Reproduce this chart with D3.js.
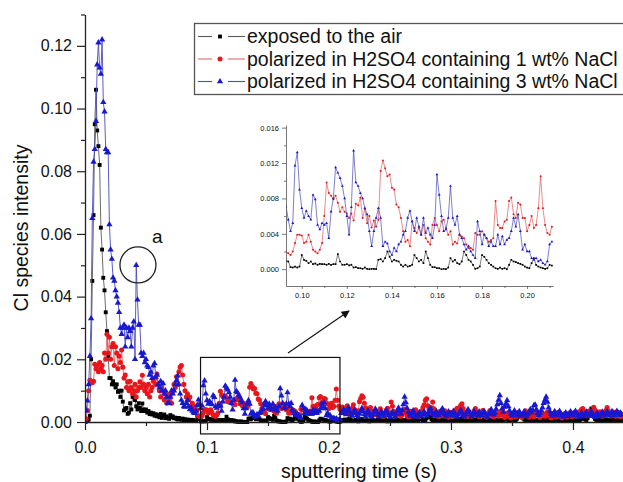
<!DOCTYPE html>
<html><head><meta charset="utf-8">
<script src="https://cdn.jsdelivr.net/npm/d3@7"></script>
<style>body{margin:0;background:#fff}svg{display:block}text{font-family:"Liberation Sans",Arial,Helvetica,sans-serif;fill:#111}</style>
</head><body><svg id="c" width="623" height="482"></svg>
<script>
// ---------- data ----------
const timeStepS = 0.001; // sampling step of the sputtering time (s)
const seriesNames = ["exposed to the air", "polarized in H2SO4 containing 1 wt% NaCl", "polarized in H2SO4 containing 3 wt% NaCl"];
const airValues = [
0,.0003,.0005,.0008,.002,.02,.045,.066,.095,.106,.093,.088,.082,.062,.055,.046,.042,.035,.029,.021,
.014,.014,.012,.013,.012,.011,.012,.0096,.01,.008,.01,.0065,.0037,.0042,.0045,.0026,.003,.006,.004,.008,
.009,.007,.005,.004,.006,.0045,.0035,.0059,.004,.0035,.004,.003,.0035,.0025,.003,.0024,.0028,.002,.0025,.0018,
.0022,.0015,.0026,.0013,.002,.0024,.0012,.0018,.0013,.001,.0022,.0015,.0018,.0012,.0014,.001,.0008,.0013,.0009,.0007,
.0011,.0006,.0009,.0005,.0008,.0006,.0004,.0007,.0005,.0004,.0006,.0003,.002,.00095,.00087,.00023,.00019,.0003,.00019,.0003,
.0016,.00106,.00095,.00068,.00087,.00057,.00064,.0005,.0006,.00057,.00057,.0005,.0006,.0005,.00057,.00057,.0017,.00087,.0005,.0005,
.00057,.00042,.0005,.00019,.00023,.00011,.00011,.00004,.00019,.00004,0,.00004,.00004,0,.00106,.00114,.00087,.00125,.002,.0014,
.00087,.00106,.00095,.00087,.0005,.0003,.0005,.0003,.00038,.0005,.0016,.00125,.00087,.00106,.00068,.002,.00125,.0005,.00023,.00023,
.00011,.00011,0,.00004,0,.00019,.00125,.00087,.00106,.00068,.00057,.00087,.002,.0016,.00106,.00087,.0005,.00004,.00011,.0003,
.0016,.0014,.00106,.00068,.0005,.0003,.00011,.00004,.00019,.00004,.00011,0,.0005,.00106,.00087,.0008,.00068,.0006,.0005,.0003,
.00019,.00011,.00068,.00125,.0005,.0003,.00019,.00011,.00004,.00011,.0005,.0004,.0006,.0008,.0005,.0003,.0009,.0012,.0006,.0004,
.0003,.0005,.0007,.0004,.0002,.0006,.001,.0008,.0005,.0003,.0004,.0006,.0003,.0002,.0005,.0009,.0007,.0004,.0003,.0005,
.0008,.0011,.0006,.0004,.0003,.0005,.0007,.0004,.0002,.0003,.0006,.0009,.0005,.0004,.0003,.0006,.0008,.0005,.0003,.0004,
.0007,.0005,.0003,.0006,.001,.0007,.0004,.0003,.0005,.0008,.0006,.0004,.0003,.0005,.0009,.0013,.0008,.0005,.0004,.0006,
.0012,.0018,.0021,.0015,.0009,.0006,.0004,.0005,.0008,.0006,.0004,.0003,.0005,.0007,.0005,.0003,.0004,.0006,.0009,.0006,
.0004,.0003,.0005,.0008,.0006,.0004,.0005,.0007,.001,.0006,.0004,.0003,.0005,.0006,.0004,.0003,.0006,.0009,.0007,.0005,
.0004,.0006,.0011,.0008,.0005,.0003,.0004,.0007,.0005,.0004,.0006,.0009,.0006,.0004,.0003,.0005,.0008,.0006,.0004,.0005,
.0007,.0005,.0004,.0006,.0009,.0012,.0008,.0005,.0004,.0006,.0008,.0011,.0007,.0005,.001,.0016,.0022,.0026,.0018,.0012,
.0008,.0006,.0005,.0007,.0005,.0004,.0006,.0009,.0006,.0004,.0005,.0007,.0005,.0003,.0004,.0006,.0008,.0005,.0004,.0006,
.0009,.0007,.0005,.0004,.0006,.0008,.0005,.0003,.0005,.0007,.001,.0007,.0005,.0004,.0006,.0005,.0004,.0007,.0009,.0006,
.0005,.0004,.0006,.0008,.0006,.0005,.0007,.001,.0014,.0012,.0008,.0006,.0012,.002,.0032,.0043,.003,.0018,.001,.0007,
.0005,.0006,.0009,.0007,.0005,.0004,.0006,.0008,.0006,.0005,.0004,.0006,.0009,.0007,.0005,.0004,.0006,.0005,.0004,.0006,.0005];
const nacl1Values = [
.0005,.001,.0037,.01,.0133,.013,.0125,.013,.0184,.017,.018,.016,.019,.017,.018,.016,.022,.02,.028,.022,
.027,.02,.024,.025,.018,.024,.022,.017,.021,.019,.023,.0175,.014,.015,.011,.0128,.01,.013,.011,.009,
.01,.012,.008,.01,.011,.0128,.011,.0149,.012,.01,.011,.009,.012,.008,.01,.011,.013,.014,.012,.0153,
.012,.01,.008,.011,.01,.007,.009,.006,.008,.007,.009,.006,.01,.012,.011,.0144,.012,.016,.0175,.018,
.015,.012,.01,.008,.009,.007,.008,.005,.006,.004,.005,.0035,.0039,.002,.0018,.0016,.002,.00295,.0039,.0039,
.0038,.00295,.0031,.0039,.0031,.0022,.002,.0018,.0022,.00295,.006,.0098,.0086,.0083,.0079,.0083,.0075,.0065,.007,.0065,
.0063,.0058,.0063,.0055,.0074,.0072,.0081,.0058,.0068,.0052,.006,.0047,.0055,.0048,.0056,.0111,.0123,.0114,.0105,.0107,
.0092,.009,.0073,.007,.0058,.0043,.0031,.0033,.0026,.0054,.00466,.0041,.00466,.0039,.005,.0035,.0031,.0028,.005,.0058,
.005,.0043,.0054,.0056,.00466,.0039,.0043,.0028,.0031,.0029,.0039,.0037,.0035,.0028,.0024,.0024,.0022,.0041,.0039,.0039,
.0043,.0039,.0035,.0031,.0033,.0035,.0077,.005,.00466,.00466,.0054,.0056,.0077,.0081,.0062,.0058,.0075,.0073,.0058,.0058,
.0043,.005,.006,.00466,.005,.0069,.0105,.0069,.005,.0041,.0039,.0048,.0035,.0028,.004,.0052,.0036,.0025,.003,.0044,
.0055,.004,.0032,.0024,.0036,.0065,.0075,.0084,.0079,.006,.0045,.0032,.0026,.0038,.0046,.0034,.0022,.0028,.0035,.0026,
.002,.003,.0042,.0031,.0023,.0018,.0026,.0038,.0044,.003,.0022,.0064,.005,.0034,.0024,.0019,.0028,.0036,.0025,.0018,
.0024,.0033,.0041,.0029,.002,.0016,.0025,.0034,.0026,.0019,.0028,.0039,.003,.0021,.0017,.0026,.0035,.0046,.0055,.0069,
.0074,.0052,.004,.003,.0045,.0064,.0042,.003,.0022,.0018,.0026,.0034,.0025,.0019,.0027,.0036,.0028,.002,.0015,.0023,
.0031,.0024,.0018,.0026,.0038,.0044,.0032,.0046,.0053,.0058,.0043,.003,.0022,.0017,.0025,.0033,.0026,.0018,.0024,.0036,
.0043,.0031,.0023,.0017,.0024,.003,.0037,.0028,.002,.0015,.0022,.003,.0037,.0029,.0021,.0016,.0025,.0032,.0024,.0018,
.0026,.0034,.0027,.0019,.0014,.0022,.0029,.0023,.0017,.0013,.002,.0028,.0022,.0016,.0023,.0031,.0025,.0018,.0014,.0021,
.0029,.0036,.0027,.0019,.0015,.0023,.003,.0024,.0017,.0025,.0033,.0026,.0019,.0014,.0022,.0029,.0023,.0018,.0026,.0032,
.0025,.0018,.0013,.002,.0027,.0021,.0016,.0024,.0031,.0024,.0017,.0013,.0019,.0026,.002,.0015,.0022,.0029,.0023,.0017,
.0024,.003,.0023,.0018,.0026,.0033,.0025,.004,.0043,.0034,.0025,.0019,.0027,.0035,.0028,.0021,.0036,.0047,.0038,.0026,
.002,.0027,.0033,.0025,.0018,.0025,.0032,.0037,.0046,.0035,.0026,.0019,.0026,.0032,.0024,.0018,.0025,.0031,.0023,.0017,.0022];
const nacl3Values = [
0,.0037,.0068,.012,.021,.033,.065,.083,.087,.096,.114,.121,.113,.111,.122,.102,.099,.087,.086,.086,
.063,.055,.052,.046,.045,.042,.04,.038,.035,.03,.028,.03,.031,.024,.03,.027,.03,.029,.024,.03,
.032,.02,.05,.039,.031,.031,.022,.021,.022,.019,.02,.018,.0175,.015,.016,.014,.018,.0187,.0144,.015,
.012,.011,.013,.01,.0123,.009,.01,.008,.006,.006,.008,.01,.009,.01,.012,.0133,.0148,.012,.009,.007,
.006,.005,.0048,.006,.007,.005,.004,.0045,.0035,.003,.0028,.0035,.0054,.0071,.0056,.0043,.0052,.0117,.0132,.009,
.0069,.0058,.0066,.006,.0056,.0084,.0079,.005,.0045,.0052,.005,.0052,.0035,.0065,.008,.0115,.0109,.0103,.0094,.008,
.006,.0039,.007,.0134,.0098,.0094,.0086,.008,.0069,.0062,.0043,.0026,.0043,.0058,.0069,.0058,.0026,.0031,.0029,.002,
.0016,.0024,.002,.0028,.0031,.0039,.0043,.0058,.0066,.0054,.0043,.0058,.0048,.0039,.0058,.0041,.00466,.0039,.0035,.005,
.0107,.0084,.006,.0043,.0045,.0058,.0094,.0058,.005,.006,.0039,.0035,.0028,.0022,.0026,.002,.0016,.00125,.0054,.0043,
.0028,.0039,.0035,.0026,.0031,.0026,.0026,.0039,.0028,.0037,.0028,.0033,.0035,.0043,.0058,.0048,.0062,.0043,.0022,.0028,
.002,.002,.00125,.00106,.00125,.00087,.00106,.00068,.0005,.00087,.0028,.0031,.004,.0032,.0024,.0035,.0046,.0033,.0025,.0019,
.0028,.0039,.003,.0022,.0017,.0026,.0035,.0044,.0033,.0024,.0018,.0027,.0036,.0028,.002,.0016,.0024,.0033,.0042,.0031,
.0023,.0017,.0025,.0034,.0026,.0019,.0028,.0038,.0029,.0021,.0016,.0024,.0032,.0025,.0018,.0026,.0035,.0045,.0034,.0026,
.0038,.0056,.008,.0062,.0044,.0032,.0024,.0019,.0027,.0036,.0027,.002,.0016,.0023,.0031,.0024,.0018,.0025,.0033,.0025,
.0019,.0027,.0035,.0044,.0033,.0025,.0019,.0026,.0034,.0026,.002,.0028,.0036,.0043,.0032,.0024,.0018,.0025,.0033,.0026,
.002,.0027,.0035,.0027,.0021,.0016,.0023,.003,.0038,.0029,.0022,.0017,.0024,.0032,.004,.0031,.0023,.0018,.0026,.0034,
.0026,.0019,.0025,.0033,.0025,.0019,.0027,.0035,.0028,.0021,.0016,.0024,.0031,.004,.003,.0023,.0029,.0042,.0056,.007,
.0085,.006,.0043,.0032,.0048,.0058,.0069,.005,.0036,.0026,.002,.0028,.0036,.0027,.002,.0026,.0034,.0026,.0019,.0025,
.0033,.0025,.0018,.0024,.0032,.004,.003,.0038,.0053,.0055,.004,.0029,.0022,.0028,.0036,.0046,.006,.007,.008,.0064,
.0046,.0034,.0025,.0019,.0026,.0034,.0026,.002,.0027,.0035,.0027,.0021,.0016,.0023,.003,.0024,.0018,.0025,.0033,.0026,
.002,.0027,.0035,.0028,.0021,.0016,.0022,.0029,.0023,.0018,.0025,.0032,.0025,.0019,.0026,.0034,.0027,.002,.0015,.0022,
.0029,.0023,.0018,.0025,.0032,.0025,.0019,.0026,.0033,.0026,.002,.0027,.0034,.0027,.0021,.0028,.0035,.0028,.0022,.0029,.0024];
const yTicks = [0, 0.02, 0.04, 0.06, 0.08, 0.10, 0.12];
const yMinorTicks = [0.01, 0.03, 0.05, 0.07, 0.09, 0.11, 0.13];
const xTicks = [0, 0.1, 0.2, 0.3, 0.4];
const xMinorTicks = [0.05, 0.15, 0.25, 0.35];
const insetXTicks = [0.10, 0.12, 0.14, 0.16, 0.18, 0.20];
const insetXMinorTicks = [0.11, 0.13, 0.15, 0.17, 0.19, 0.21];
const insetYTicks = [0, 0.004, 0.008, 0.012, 0.016];
const insetYMinorTicks = [0.002, 0.006, 0.010, 0.014];
const insetRange = [0.093, 0.2115];
// annotation anchors in data space
const zoomBox = {t0: 0.0947, t1: 0.209, v0: -0.0038, v1: 0.0206};
const arrowFrom = {t: 0.1664, v: 0.022}, arrowTo = {t: 0.2164, v: 0.0354};
const peakA = {t: 0.0434, v: 0.0501};

// ---------- chart ----------
const svg = d3.select("#c");
const x = d3.scaleLinear().domain([0, 0.441]).range([85, 623]);
const y = d3.scaleLinear().domain([0, 0.13]).range([422, 14.5]);
const ix = d3.scaleLinear().domain(insetRange).range([286, 553]);
const iy = d3.scaleLinear().domain([-0.0019, 0.0163]).range([286, 125]);

const styles = [
  {values: airValues, line: "#5a5a5a", fill: "#000", sym: d3.symbolSquare, size: 15, isize: 3, iline: "#444"},
  {values: nacl1Values, line: "#e06a6a", fill: "#e8161b", sym: d3.symbolCircle, size: 20, isize: 3.2, iline: "#e05a5a"},
  {values: nacl3Values, line: "#4a4ac0", fill: "#1818d0", sym: d3.symbolTriangle, size: 17, isize: 3.5, iline: "#4848b8"}
];
const seriesData = styles.map(s => s.values.map((v, i) => ({t: +(i * timeStepS).toFixed(3), v})));

const defs = svg.append("defs");
defs.append("clipPath").attr("id", "mainClip").append("rect").attr("x", 85).attr("y", 0).attr("width", 538).attr("height", 428);
defs.append("clipPath").attr("id", "insetClip").append("rect").attr("x", 286).attr("y", 118).attr("width", 270).attr("height", 170);
defs.append("marker").attr("id", "arrowHead").attr("viewBox", "0 0 10 10").attr("refX", 9).attr("refY", 5)
  .attr("markerWidth", 10).attr("markerHeight", 8).attr("markerUnits", "userSpaceOnUse").attr("orient", "auto")
  .append("path").attr("d", "M0,0 L10,5 L0,10 z").attr("fill", "#111");

function drawSeries(g, data, sx, sy, st, inset) {
  g.append("path").datum(data).attr("fill", "none")
    .attr("stroke", inset ? st.iline : st.line).attr("stroke-width", inset ? 0.7 : 0.9)
    .attr("d", d3.line().x(d => sx(d.t)).y(d => sy(d.v)));
  const sym = d3.symbol(st.sym, inset ? st.isize : st.size)();
  g.selectAll(null).data(data).enter().append("path")
    .attr("transform", d => `translate(${sx(d.t)},${sy(d.v)})`)
    .attr("d", sym).attr("fill", st.fill);
}

// main data
const gMain = svg.append("g").attr("clip-path", "url(#mainClip)");
styles.forEach((st, k) => drawSeries(gMain.append("g"), seriesData[k], x, y, st, false));

// main axes
const axisColor = "#222";
const gy = svg.append("g").attr("transform", "translate(85,0)")
  .call(d3.axisLeft(y).tickValues(yTicks).tickFormat(d3.format(".2f")).tickSizeInner(8).tickSizeOuter(0).tickPadding(5));
svg.append("g").attr("transform", "translate(85,0)")
  .call(d3.axisLeft(y).tickValues(yMinorTicks).tickFormat("").tickSizeInner(4).tickSizeOuter(0))
  .call(g => g.select(".domain").remove());
const gx = svg.append("g").attr("transform", "translate(0,422)")
  .call(d3.axisBottom(x).tickValues(xTicks).tickFormat(d3.format(".1f")).tickSizeInner(8).tickSizeOuter(0).tickPadding(12));
svg.append("g").attr("transform", "translate(0,422)")
  .call(d3.axisBottom(x).tickValues(xMinorTicks).tickFormat("").tickSizeInner(4).tickSizeOuter(0))
  .call(g => g.select(".domain").remove());
svg.selectAll(".domain").attr("stroke", axisColor).attr("stroke-width", 1.3);
svg.selectAll(".tick line").attr("stroke", axisColor).attr("stroke-width", 1.2);
gy.selectAll("text").attr("font-size", 16).attr("fill", "#111").attr("font-family", '"Liberation Sans",Arial,sans-serif');
gx.selectAll("text").attr("font-size", 16).attr("fill", "#111").attr("font-family", '"Liberation Sans",Arial,sans-serif');

svg.append("text").attr("transform", "translate(28,228) rotate(-90)").attr("text-anchor", "middle")
  .attr("font-size", 19.5).text("Cl species intensity");
svg.append("text").attr("x", 359).attr("y", 478).attr("text-anchor", "middle")
  .attr("font-size", 19.5).text("sputtering time (s)");

// annotations
svg.append("rect").attr("x", x(zoomBox.t0)).attr("y", y(zoomBox.v1))
  .attr("width", x(zoomBox.t1) - x(zoomBox.t0)).attr("height", y(zoomBox.v0) - y(zoomBox.v1))
  .attr("fill", "none").attr("stroke", "#111").attr("stroke-width", 1.2);
svg.append("line").attr("x1", x(arrowFrom.t)).attr("y1", y(arrowFrom.v)).attr("x2", x(arrowTo.t)).attr("y2", y(arrowTo.v))
  .attr("stroke", "#111").attr("stroke-width", 1.1).attr("marker-end", "url(#arrowHead)");
svg.append("circle").attr("cx", x(peakA.t)).attr("cy", y(peakA.v)).attr("r", 18)
  .attr("fill", "none").attr("stroke", "#222").attr("stroke-width", 1.3);
svg.append("text").attr("x", x(peakA.t) + 14).attr("y", y(peakA.v) - 22).attr("font-size", 19).text("a");

// inset
const gIn = svg.append("g").attr("clip-path", "url(#insetClip)");
styles.forEach((st, k) => {
  const d = seriesData[k].filter(p => p.t >= insetRange[0] - 1e-9 && p.t <= insetRange[1]);
  drawSeries(gIn.append("g"), d, ix, iy, st, true);
});
const insetColor = "#555";
const giy = svg.append("g").attr("transform", "translate(286,0)")
  .call(d3.axisLeft(iy).tickValues(insetYTicks).tickFormat(d3.format(".3f")).tickSizeInner(4).tickSizeOuter(0).tickPadding(3));
const giy2 = svg.append("g").attr("transform", "translate(286,0)")
  .call(d3.axisLeft(iy).tickValues(insetYMinorTicks).tickFormat("").tickSizeInner(2).tickSizeOuter(0));
giy2.select(".domain").remove();
const gix = svg.append("g").attr("transform", "translate(0,286)")
  .call(d3.axisBottom(ix).tickValues(insetXTicks).tickFormat(d3.format(".2f")).tickSizeInner(3).tickSizeOuter(0).tickPadding(4));
const gix2 = svg.append("g").attr("transform", "translate(0,286)")
  .call(d3.axisBottom(ix).tickValues(insetXMinorTicks).tickFormat("").tickSizeInner(2).tickSizeOuter(0));
gix2.select(".domain").remove();
[giy, giy2, gix, gix2].forEach(g => {
  g.selectAll(".domain").attr("stroke", insetColor).attr("stroke-width", 0.8);
  g.selectAll(".tick line").attr("stroke", insetColor).attr("stroke-width", 0.8);
  g.selectAll("text").attr("font-size", 7.5).attr("fill", "#555").attr("font-family", '"Liberation Sans",Arial,sans-serif');
});

// legend
const legend = svg.append("g");
legend.append("rect").attr("x", 194.5).attr("y", 23.5).attr("width", 440).attr("height", 71)
  .attr("fill", "#fff").attr("stroke", "#555").attr("stroke-width", 1.3);
const rowY = [36.5, 59, 81.5];
styles.forEach((st, k) => {
  const g = legend.append("g");
  g.append("line").attr("x1", 198).attr("x2", 212).attr("y1", rowY[k]).attr("y2", rowY[k]).attr("stroke", st.line).attr("stroke-width", 1.1);
  g.append("line").attr("x1", 228).attr("x2", 245).attr("y1", rowY[k]).attr("y2", rowY[k]).attr("stroke", st.line).attr("stroke-width", 1.1);
  g.append("path").attr("transform", `translate(220,${rowY[k]})`).attr("d", d3.symbol(st.sym, st.size)()).attr("fill", st.fill);
  g.append("text").attr("x", 247).attr("y", rowY[k] + 6.5).attr("font-size", 19.5).text(seriesNames[k]);
});
</script></body></html>
